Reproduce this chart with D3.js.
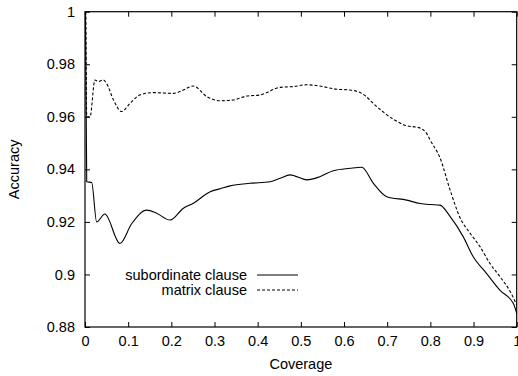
<!DOCTYPE html>
<html>
<head>
<meta charset="utf-8">
<script src="https://cdn.jsdelivr.net/npm/d3@7"></script>
<style>
  body { margin: 0; background: #fff; }
  svg text { font-family: "Liberation Sans", Arial, sans-serif; fill: #000; }
</style>
</head>
<body>
<div id="chart"></div>
<script>
// values
var subCov = [0.001, 0.004, 0.0155, 0.027, 0.046, 0.081, 0.108, 0.143, 0.166, 0.197, 0.228, 0.251, 0.29, 0.313, 0.336, 0.382, 0.429, 0.452, 0.475, 0.514, 0.544, 0.575, 0.614, 0.641, 0.668, 0.699, 0.745, 0.776, 0.8, 0.822, 0.846, 0.876, 0.899, 0.93, 0.961, 0.992, 1.0];
var subAcc = [1.0, 0.9353, 0.935, 0.920, 0.923, 0.9118, 0.9193, 0.9245, 0.9233, 0.9207, 0.9252, 0.9271, 0.9315, 0.9326, 0.9337, 0.9347, 0.9353, 0.9366, 0.9379, 0.936, 0.9372, 0.9395, 0.9404, 0.9408, 0.9347, 0.9296, 0.9283, 0.927, 0.9266, 0.9264, 0.922, 0.9144, 0.9068, 0.9004, 0.894, 0.889, 0.8852];

var matCov = [0.002, 0.004, 0.0116, 0.023, 0.031, 0.042, 0.05, 0.066, 0.085, 0.104, 0.127, 0.158, 0.205, 0.22, 0.251, 0.282, 0.313, 0.343, 0.375, 0.405, 0.452, 0.482, 0.514, 0.544, 0.583, 0.614, 0.641, 0.679, 0.713, 0.741, 0.776, 0.792, 0.8, 0.822, 0.846, 0.869, 0.892, 0.915, 0.938, 0.961, 0.985, 1.0];
var matAcc = [1.0, 0.96, 0.96, 0.974, 0.9734, 0.974, 0.9727, 0.9664, 0.962, 0.9651, 0.9683, 0.9692, 0.9689, 0.9696, 0.9717, 0.9677, 0.9661, 0.9664, 0.9679, 0.9683, 0.9712, 0.9715, 0.9722, 0.9717, 0.9705, 0.9702, 0.9689, 0.9634, 0.9592, 0.9568, 0.9557, 0.9535, 0.951, 0.9445, 0.932, 0.9215, 0.9157, 0.9106, 0.9042, 0.8992, 0.8935, 0.8884];

var xTicks = [0, 0.1, 0.2, 0.3, 0.4, 0.5, 0.6, 0.7, 0.8, 0.9, 1];
var yTicks = [0.88, 0.9, 0.92, 0.94, 0.96, 0.98, 1];

var seriesNames = ["subordinate clause", "matrix clause"];

// size of the picture and the plot area
var w = 518, h = 376;
var margin = {top: 11.7, right: 1.3, bottom: 49, left: 85};

var xScale = d3.scaleLinear().domain([0, 1]).range([margin.left, w - margin.right]);
var yScale = d3.scaleLinear().domain([0.88, 1]).range([h - margin.bottom, margin.top]);

var svg = d3.select("#chart").append("svg")
  .attr("width", w)
  .attr("height", h);

// ticks on all four sides, pointing inward
var tick = 5;
var fmt = function(d) { return d3.format("")(d); };

var xAxis = d3.axisBottom(xScale).tickValues(xTicks).tickSize(-tick).tickPadding(9).tickFormat(fmt);
var xAxisTop = d3.axisTop(xScale).tickValues(xTicks).tickSize(-tick).tickFormat("");
var yAxis = d3.axisLeft(yScale).tickValues(yTicks).tickSize(-tick).tickPadding(10).tickFormat(fmt);
var yAxisRight = d3.axisRight(yScale).tickValues(yTicks).tickSize(-tick).tickFormat("");

function styleAxis(g) {
  g.select(".domain").remove();
  g.selectAll(".tick line").attr("stroke", "#000");
  g.selectAll(".tick text").style("font-size", "14.5px").attr("fill", "#000");
}

svg.append("g").attr("transform", "translate(0," + (h - margin.bottom) + ")").call(xAxis).call(styleAxis);
svg.append("g").attr("transform", "translate(0," + margin.top + ")").call(xAxisTop).call(styleAxis);
svg.append("g").attr("transform", "translate(" + margin.left + ",0)").call(yAxis).call(styleAxis);
svg.append("g").attr("transform", "translate(" + (w - margin.right) + ",0)").call(yAxisRight).call(styleAxis);

// plot border
svg.append("rect")
  .attr("x", margin.left)
  .attr("y", margin.top)
  .attr("width", w - margin.left - margin.right)
  .attr("height", h - margin.top - margin.bottom)
  .attr("fill", "none")
  .attr("stroke", "#000")
  .attr("stroke-width", 1.2);

// axis titles
svg.append("text")
  .attr("x", (margin.left + w - margin.right) / 2)
  .attr("y", 369)
  .attr("text-anchor", "middle")
  .style("font-size", "14.5px")
  .text("Coverage");

svg.append("text")
  .attr("transform", "translate(19," + ((margin.top + h - margin.bottom) / 2) + ") rotate(-90)")
  .attr("text-anchor", "middle")
  .style("font-size", "14.5px")
  .text("Accuracy");

// lines
var line = d3.line()
  .x(function(d) { return xScale(d[0]); })
  .y(function(d) { return yScale(d[1]); })
  .curve(d3.curveMonotoneX);

var subData = d3.zip(subCov, subAcc);
var matData = d3.zip(matCov, matAcc);

svg.append("path")
  .datum(subData)
  .attr("d", line)
  .attr("fill", "none")
  .attr("stroke", "#000")
  .attr("stroke-width", 1.1);

svg.append("path")
  .datum(matData)
  .attr("d", line)
  .attr("fill", "none")
  .attr("stroke", "#000")
  .attr("stroke-width", 1.1)
  .attr("stroke-dasharray", "3,2");

// legend
var legend = svg.selectAll(".legend")
  .data(seriesNames)
  .enter().append("g")
  .attr("class", "legend")
  .attr("transform", function(d, i) { return "translate(0," + (275 + i * 15) + ")"; });

legend.append("text")
  .attr("x", 247)
  .attr("dy", "0.35em")
  .attr("text-anchor", "end")
  .style("font-size", "14.5px")
  .text(function(d) { return d; });

legend.append("line")
  .attr("x1", 257)
  .attr("x2", 298)
  .attr("stroke", "#000")
  .attr("stroke-width", 1.1)
  .attr("stroke-dasharray", function(d, i) { return i == 1 ? "3,2" : null; });
</script>
</body>
</html>
